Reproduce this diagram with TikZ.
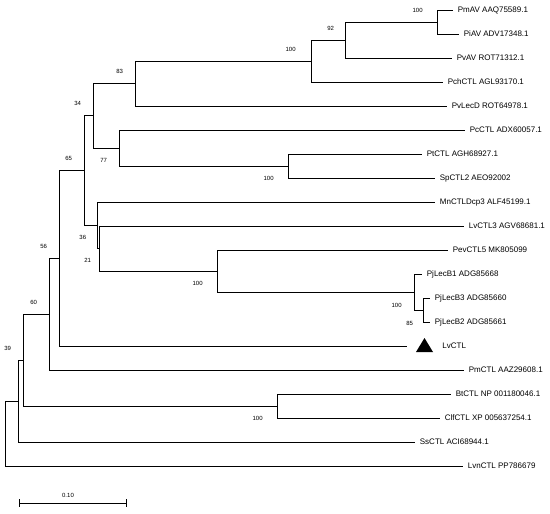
\documentclass[tikz,border=0pt]{standalone}
\usepackage{fontspec}
\setmainfont{Liberation Sans}
\usetikzlibrary{positioning,calc}
\begin{document}
\begin{tikzpicture}[x=1pt,y=-1pt,line width=0.8pt,
  taxon/.style={anchor=base west,inner sep=0pt,xshift=4.5pt,yshift=-2.9pt,font=\fontsize{8}{9}\selectfont},
  boot/.style={inner sep=0pt,font=\fontsize{6}{7}\selectfont}]
  \useasboundingbox (0,0) rectangle (550,514);
  \coordinate (PmAV) at (453,10);
  \coordinate (PiAV) at (459,34);
  \coordinate (PvAV) at (452,58);
  \coordinate (PchCTL) at (443,82);
  \coordinate (PvLecD) at (447,106);
  \coordinate (PcCTL) at (465,130);
  \coordinate (PtCTL) at (422,154);
  \coordinate (SpCTL2) at (435,178);
  \coordinate (MnCTL) at (435,202);
  \coordinate (LvCTL3) at (464,226);
  \coordinate (PevCTL5) at (448,250);
  \coordinate (PjLecB1) at (422,274);
  \coordinate (PjLecB3) at (430,298);
  \coordinate (PjLecB2) at (430,322);
  \coordinate (LvCTL) at (407,346);
  \coordinate (PmCTL) at (464,370);
  \coordinate (BtCTL) at (451,394);
  \coordinate (ClfCTL) at (440,418);
  \coordinate (SsCTL) at (415,442);
  \coordinate (LvnCTL) at (463,466);
  \coordinate (nAV) at (437,22);
  \coordinate (n92) at (345,40);
  \coordinate (nAVb) at (311,61);
  \coordinate (n83) at (135,83.5);
  \coordinate (nPtSp) at (288,166);
  \coordinate (n77) at (119,148);
  \coordinate (n34) at (93,115.75);
  \coordinate (nB32) at (423,310);
  \coordinate (nPj) at (414,292);
  \coordinate (nPev) at (217,271);
  \coordinate (n21) at (99,248.5);
  \coordinate (n36) at (97.5,225.25);
  \coordinate (n65) at (84,170.5);
  \coordinate (n56) at (59,258.25);
  \coordinate (n60) at (49,314);
  \coordinate (nBtClf) at (277,406);
  \coordinate (n39) at (23,360);
  \coordinate (nSs) at (18,401);
  \coordinate (nRoot) at (5,433.5);
  \draw (nRoot) |- (nSs) (nRoot) |- (LvnCTL);
  \draw (nSs) |- (n39) (nSs) |- (SsCTL);
  \draw (n39) |- (n60) (n39) |- (nBtClf);
  \draw (nBtClf) |- (BtCTL) (nBtClf) |- (ClfCTL);
  \draw (n60) |- (n56) (n60) |- (PmCTL);
  \draw (n56) |- (n65) (n56) |- (LvCTL);
  \draw (n65) |- (n34) (n65) |- (n36);
  \draw (n34) |- (n83) (n34) |- (n77);
  \draw (n83) |- (nAVb) (n83) |- (PvLecD);
  \draw (nAVb) |- (n92) (nAVb) |- (PchCTL);
  \draw (n92) |- (nAV) (n92) |- (PvAV);
  \draw (nAV) |- (PmAV) (nAV) |- (PiAV);
  \draw (n77) |- (PcCTL) (n77) |- (nPtSp);
  \draw (nPtSp) |- (PtCTL) (nPtSp) |- (SpCTL2);
  \draw (n36) |- (MnCTL) (n36) |- (n21);
  \draw (n21) |- (LvCTL3) (n21) |- (nPev);
  \draw (nPev) |- (PevCTL5) (nPev) |- (nPj);
  \draw (nPj) |- (PjLecB1) (nPj) |- (nB32);
  \draw (nB32) |- (PjLecB3) (nB32) |- (PjLecB2);
  \node[taxon] (tPmAV) at (PmAV) {PmAV AAQ75589.1};
  \node[taxon] (tPiAV) at (PiAV) {PiAV ADV17348.1};
  \node[taxon] (tPvAV) at (PvAV) {PvAV ROT71312.1};
  \node[taxon] (tPchCTL) at (PchCTL) {PchCTL AGL93170.1};
  \node[taxon] (tPvLecD) at (PvLecD) {PvLecD ROT64978.1};
  \node[taxon] (tPcCTL) at (PcCTL) {PcCTL ADX60057.1};
  \node[taxon] (tPtCTL) at (PtCTL) {PtCTL AGH68927.1};
  \node[taxon] (tSpCTL2) at (SpCTL2) {SpCTL2 AEO92002};
  \node[taxon] (tMnCTL) at (MnCTL) {MnCTLDcp3 ALF45199.1};
  \node[taxon] (tLvCTL3) at (LvCTL3) {LvCTL3 AGV68681.1};
  \node[taxon] (tPevCTL5) at (PevCTL5) {PevCTL5 MK805099};
  \node[taxon] (tPjLecB1) at (PjLecB1) {PjLecB1 ADG85668};
  \node[taxon] (tPjLecB3) at (PjLecB3) {PjLecB3 ADG85660};
  \node[taxon] (tPjLecB2) at (PjLecB2) {PjLecB2 ADG85661};
  \node[taxon] (tPmCTL) at (PmCTL) {PmCTL AAZ29608.1};
  \node[taxon] (tBtCTL) at (BtCTL) {BtCTL NP 001180046.1};
  \node[taxon] (tClfCTL) at (ClfCTL) {ClfCTL XP 005637254.1};
  \node[taxon] (tSsCTL) at (SsCTL) {SsCTL ACI68944.1};
  \node[taxon] (tLvnCTL) at (LvnCTL) {LvnCTL PP786679};
  \coordinate (LvTri) at (424.5,345);
  \fill ($(LvTri)+(0,-7)$) -- ($(LvTri)+(8.5,7)$) -- ($(LvTri)+(-8.5,7)$) -- cycle;
  \node[taxon] (tLvCTL) at ($(LvTri)+(13,1)$) {LvCTL};
  \node[boot,above left=9.4pt and 14pt of nAV] (bAV) {100};
  \node[boot,above left=9.4pt and 10.6pt of n92] (b92) {92};
  \node[boot,above left=9.4pt and 15pt of nAVb] (bAVb) {100};
  \node[boot,above left=9.4pt and 11.6pt of n83] (b83) {83};
  \node[boot,above left=9.4pt and 11.6pt of n34] (b34) {34};
  \node[boot,below left=9.8pt and 11.6pt of n77] (b77) {77};
  \node[boot,below left=9.8pt and 14pt of nPtSp] (bPtSp) {100};
  \node[boot,above left=9.2pt and 11.6pt of n65] (b65) {65};
  \node[boot,below left=9.8pt and 11pt of n36] (b36) {36};
  \node[boot,below left=9.4pt and 7.6pt of n21] (b21) {21};
  \node[boot,below left=9.8pt and 14pt of nPev] (bPev) {100};
  \node[boot,above left=9pt and 11.6pt of n56] (b56) {56};
  \node[boot,below left=10.8pt and 12pt of nPj] (bPj) {100};
  \node[boot,below left=10.8pt and 9.6pt of nB32] (bB32) {85};
  \node[boot,above left=9pt and 11.6pt of n60] (b60) {60};
  \node[boot,above left=9pt and 11.6pt of n39] (b39) {39};
  \node[boot,below left=9.8pt and 14pt of nBtClf] (bBtClf) {100};
  \coordinate (barL) at (19,503);
  \coordinate (barR) at (126,503);
  \draw (barL) -- (barR);
  \draw (barL) ++(0,-4) -- ++(0,8);
  \draw (barR) ++(0,-4) -- ++(0,8);
  \node[boot] (barLbl) at (68,495) {0.10};
\end{tikzpicture}
\end{document}
